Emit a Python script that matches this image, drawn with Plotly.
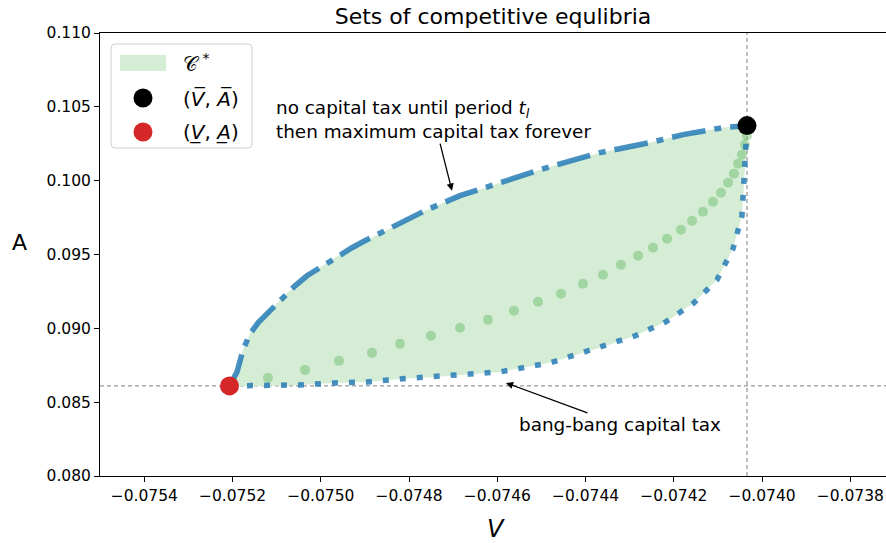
import plotly.graph_objects as go

# ---- data ----
V_bar, A_bar = -0.0740341, 0.103729
V_low, A_low = -0.0752069, 0.086102

upper_V = [-0.0752069, -0.0751899, -0.0751763, -0.0751605, -0.0751423, -0.0750925,
           -0.0750585, -0.0750313, -0.0749610, -0.0749293, -0.0749044, -0.0748250,
           -0.0747593, -0.0746845, -0.0745939, -0.0744806, -0.0743673, -0.0742540,
           -0.0741792, -0.0740885, -0.0740341]
upper_A = [0.086102, 0.087051, 0.088542, 0.089627, 0.090373, 0.091932,
           0.092881, 0.093559, 0.094915, 0.095458, 0.095864, 0.097017,
           0.098034, 0.098983, 0.099864, 0.100949, 0.101898, 0.102576,
           0.103119, 0.103593, 0.103729]

lower_V = [-0.0752058, -0.0751219, -0.0750471, -0.0749678, -0.0748930, -0.0748205,
           -0.0747072, -0.0745939, -0.0744806, -0.0743605, -0.0742879, -0.0742177,
           -0.0741542, -0.0741021, -0.0740658, -0.0740455, -0.0740386, -0.0740341]
lower_A = [0.086102, 0.086102, 0.086169, 0.086305, 0.086373, 0.086576,
           0.086780, 0.087051, 0.087661, 0.088746, 0.089492, 0.090441,
           0.091729, 0.093288, 0.095390, 0.097627, 0.101017, 0.103729]

mid_V = [-0.0751197, -0.0750358, -0.0749588, -0.0748840, -0.0748205, -0.0747503,
         -0.0746845, -0.0746211, -0.0745622, -0.0745078, -0.0744556, -0.0744058,
         -0.0743604, -0.0743197, -0.0742811, -0.0742471, -0.0742154, -0.0741837,
         -0.0741587, -0.0741338, -0.0741112, -0.0740930, -0.0740772, -0.0740636,
         -0.0740545, -0.0740454, -0.0740386, -0.0740341]
mid_A = [0.086644, 0.087186, 0.087797, 0.088339, 0.088949, 0.089492,
         0.090034, 0.090576, 0.091187, 0.091797, 0.092339, 0.093017,
         0.093627, 0.094305, 0.094915, 0.095458, 0.096068, 0.096678,
         0.097288, 0.097898, 0.098576, 0.099186, 0.099864, 0.100475,
         0.101153, 0.101763, 0.102441, 0.103051]

x_range = [-0.0755004, -0.0737191]
y_range = [0.080, 0.110]
x_ticks = [-0.0754, -0.0752, -0.0750, -0.0748, -0.0746, -0.0744, -0.0742, -0.0740, -0.0738]
y_ticks = [0.080, 0.085, 0.090, 0.095, 0.100, 0.105, 0.110]

legend_labels = ["𝒞<sup> *</sup>", "(<i>V̅</i>, <i>A̅</i>)", "(<i>V̲</i>, <i>A̲</i>)"]

# annotation arrow tips (data units)
ann1_tip = (-0.0747027, 0.099322)
ann2_tip = (-0.0745803, 0.086305)

FONT = "DejaVu Sans"
BLUE = "rgba(31,119,180,0.82)"
FILL = "#d5ecd5"
RED = "#d62728"

W, H = 886, 543
ML, MT, MB = 100, 33, 67
PW, PH = W - ML, H - MT - MB


def px(sx):
    return (sx - ML) / PW


def py(sy):
    return 1 - (sy - MT) / PH


fig = go.Figure()

# filled set C*
fig.add_trace(go.Scatter(
    x=upper_V + lower_V[::-1], y=upper_A + lower_A[::-1],
    fill="toself", fillcolor=FILL, mode="none",
    name="C*", showlegend=False, hoverinfo="skip"))

# middle path (green dots)
fig.add_trace(go.Scatter(
    x=mid_V, y=mid_A, mode="markers",
    marker=dict(color="rgba(44,160,44,0.3)", size=10, line=dict(width=0)),
    showlegend=False))

# upper frontier (dash-dot)
fig.add_trace(go.Scatter(
    x=upper_V, y=upper_A, mode="lines",
    line=dict(color=BLUE, width=5.5, dash="34px,9px,7px,9px"),
    showlegend=False))

# lower frontier (dotted)
fig.add_trace(go.Scatter(
    x=lower_V, y=lower_A, mode="lines",
    line=dict(color=BLUE, width=5.5, dash="6px,11px"),
    showlegend=False))

# end points
fig.add_trace(go.Scatter(
    x=[V_bar], y=[A_bar], mode="markers",
    marker=dict(color="black", size=19), showlegend=False))
fig.add_trace(go.Scatter(
    x=[V_low], y=[A_low], mode="markers",
    marker=dict(color=RED, size=19), showlegend=False))

# reference dashed lines
fig.add_shape(type="line", xref="x", yref="paper", x0=V_bar, x1=V_bar, y0=0, y1=1,
              line=dict(color="#808080", width=1, dash="4px,3px"), layer="below")
fig.add_shape(type="line", xref="paper", yref="y", x0=0, x1=1, y0=A_low, y1=A_low,
              line=dict(color="#808080", width=1, dash="4px,3px"), layer="below")

# ---- legend box (matplotlib style) ----
x0, x1, y0, y1 = px(111), px(252), py(148), py(44)
rx, ry = 4 / PW, 4 / PH
path = (f"M{x0+rx},{y0} L{x1-rx},{y0} Q{x1},{y0} {x1},{y0+ry} L{x1},{y1-ry} "
        f"Q{x1},{y1} {x1-rx},{y1} L{x0+rx},{y1} Q{x0},{y1} {x0},{y1-ry} "
        f"L{x0},{y0+ry} Q{x0},{y0} {x0+rx},{y0} Z")
fig.add_shape(type="path", path=path, xref="paper", yref="paper",
              fillcolor="rgba(255,255,255,0.8)", line=dict(color="#d0d0d0", width=1),
              layer="above")
fig.add_shape(type="rect", xref="paper", yref="paper",
              x0=px(120), x1=px(166), y0=py(71), y1=py(55),
              fillcolor=FILL, line=dict(width=0), layer="above")
for cy, col in [(98, "black"), (132, RED)]:
    fig.add_shape(type="circle", xref="paper", yref="paper",
                  xsizemode="pixel", ysizemode="pixel",
                  xanchor=px(143), yanchor=py(cy), x0=-9.5, x1=9.5, y0=-9.5, y1=9.5,
                  fillcolor=col, line=dict(width=0), layer="above")
for lab, cy in zip(legend_labels, [63, 98, 132]):
    fig.add_annotation(x=px(181), y=py(cy), xref="paper", yref="paper", text=lab,
                       showarrow=False, xanchor="left", yanchor="middle",
                       font=dict(family=FONT, size=20, color="black"))

# annotations with arrows (text placed at the arrow tail)
fig.add_annotation(x=ann1_tip[0], y=ann1_tip[1], xref="x", yref="y",
                   text="no capital tax until period <i>t<sub>l</sub></i><br>then maximum capital tax forever",
                   showarrow=True, ax=-18, ay=-71, align="left",
                   arrowhead=2, arrowsize=1.1, arrowwidth=1.3, arrowcolor="black",
                   font=dict(family=FONT, size=18.4, color="black"))
fig.add_annotation(x=ann2_tip[0], y=ann2_tip[1], xref="x", yref="y",
                   text="bang-bang capital tax",
                   showarrow=True, ax=114, ay=42,
                   arrowhead=2, arrowsize=1.1, arrowwidth=1.3, arrowcolor="black",
                   font=dict(family=FONT, size=18.4, color="black"))

# axis labels
fig.add_annotation(x=px(19), y=py(242), xref="paper", yref="paper",
                   text="A", showarrow=False, xanchor="center", yanchor="middle",
                   font=dict(family=FONT, size=22, color="black"))
fig.add_annotation(x=px(496), y=py(529), xref="paper", yref="paper",
                   text="<i>V</i>", showarrow=False, xanchor="center", yanchor="middle",
                   font=dict(family=FONT, size=24, color="black"))

fig.update_layout(
    width=W, height=H,
    margin=dict(l=ML, r=0, t=MT, b=MB, pad=0),
    plot_bgcolor="white", paper_bgcolor="white",
    font=dict(family=FONT, size=15.5, color="black"),
    title=dict(text="Sets of competitive equlibria", x=493 / W, xanchor="center",
               xref="container", yref="container",
               y=1 - 16 / H, yanchor="middle", font=dict(family=FONT, size=22)),
    showlegend=False,
)
fig.update_xaxes(range=x_range, tickvals=x_ticks, tickformat=".4f", automargin=False,
                 showgrid=False, zeroline=False, showline=True, linecolor="black",
                 linewidth=1, mirror=True, ticks="outside", ticklen=5,
                 tickcolor="black", tickfont=dict(size=15.5))
fig.update_yaxes(range=y_range, tickvals=y_ticks, tickformat=".3f", automargin=False,
                 showgrid=False, zeroline=False, showline=True, linecolor="black",
                 linewidth=1, ticks="outside", ticklen=5, tickcolor="black",
                 tickfont=dict(size=15.5))

fig.write_html("out.html",
               config={"displayModeBar": False},
               post_script="document.body.style.margin='0px';"
                           "document.body.style.overflow='hidden';")
